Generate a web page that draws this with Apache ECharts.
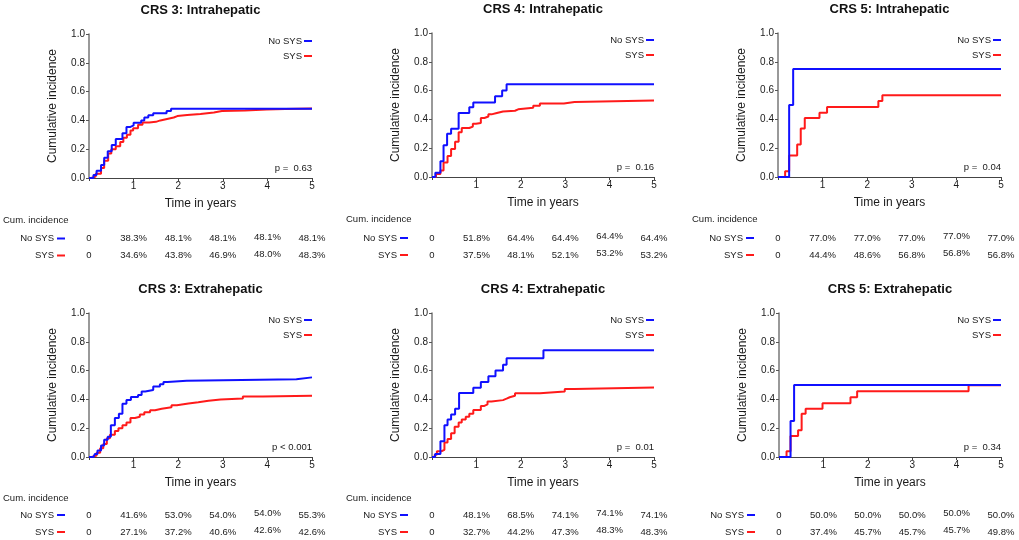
<!DOCTYPE html>
<html><head><meta charset="utf-8">
<script src="https://cdn.jsdelivr.net/npm/echarts@6/dist/echarts.min.js"></script>
<style>html,body{margin:0;padding:0;background:#fff}#c{width:1019px;height:540px}</style>
</head><body><div id="c"></div><script>
const FONT = '"Liberation Sans", Arial, Helvetica, sans-serif';

// ---------- texts ----------
const titles = ['CRS 3: Intrahepatic', 'CRS 4: Intrahepatic', 'CRS 5: Intrahepatic',
                'CRS 3: Extrahepatic', 'CRS 4: Extrahepatic', 'CRS 5: Extrahepatic'];
const pValues = ['p =  0.63', 'p =  0.16', 'p =  0.04', 'p < 0.001', 'p =  0.01', 'p =  0.34'];
const groupNames = ['No SYS', 'SYS'];
const tableTimes = [0, 1, 2, 3, 4, 5];
const showCumLabel = [true, true, true, true, true, false];

// ---------- cumulative incidence curves [years, incidence] ----------
const crs3IntraNoSys = [[0,0],[0.1,0.02],[0.17,0.05],[0.27,0.09],[0.34,0.14],[0.42,0.185],[0.51,0.23],[0.6,0.27],[0.75,0.31],[0.84,0.355],[0.93,0.365],[1.0,0.383],[1.17,0.40],[1.24,0.42],[1.33,0.435],[1.44,0.45],[1.74,0.465],[1.84,0.481],[5,0.481]];
const crs3IntraSys   = [[0,0],[0.05,0.01],[0.15,0.03],[0.27,0.07],[0.34,0.12],[0.43,0.17],[0.5,0.2],[0.6,0.22],[0.7,0.25],[0.77,0.28],[0.85,0.30],[0.93,0.33],[0.99,0.346],[1.1,0.37],[1.2,0.385],[1.35,0.39],[1.5,0.40],[1.6,0.41],[1.75,0.42],[1.9,0.43],[1.98,0.438],[2.2,0.445],[2.5,0.455],[2.8,0.465],[2.98,0.469],[3.5,0.475],[3.98,0.48],[4.4,0.483],[5,0.483]];

const crs4IntraNoSys = [[0,0],[0.075,0.03],[0.19,0.11],[0.26,0.22],[0.34,0.30],[0.43,0.335],[0.6,0.445],[0.84,0.485],[0.93,0.518],[1.42,0.56],[1.58,0.60],[1.68,0.644],[5,0.644]];
const crs4IntraSys   = [[0,0],[0.09,0.02],[0.19,0.045],[0.26,0.10],[0.35,0.145],[0.43,0.195],[0.52,0.245],[0.6,0.31],[0.67,0.34],[0.84,0.35],[0.92,0.37],[0.99,0.375],[1.1,0.41],[1.18,0.42],[1.27,0.435],[1.34,0.445],[1.46,0.455],[1.6,0.46],[1.87,0.47],[1.94,0.481],[2.28,0.495],[2.43,0.51],[2.97,0.521],[3.21,0.532],[5,0.532]];

const crs5IntraNoSys = [[0,0],[0.25,0.50],[0.34,0.75],[5,0.75]];
const crs5IntraSys   = [[0,0],[0.16,0.04],[0.25,0.15],[0.43,0.225],[0.51,0.336],[0.6,0.41],[0.93,0.447],[1.1,0.486],[2.25,0.528],[2.34,0.568],[5,0.568]];

const crs3ExtraNoSys = [[0,0],[0.1,0.01],[0.13,0.02],[0.19,0.045],[0.27,0.08],[0.34,0.12],[0.42,0.14],[0.49,0.22],[0.58,0.27],[0.67,0.30],[0.75,0.37],[0.84,0.395],[0.94,0.416],[1.1,0.43],[1.18,0.455],[1.26,0.465],[1.44,0.49],[1.59,0.505],[1.67,0.52],[1.76,0.53],[2.19,0.54],[4.65,0.553],[5,0.553]];
const crs3ExtraSys   = [[0,0],[0.06,0.01],[0.17,0.03],[0.25,0.06],[0.32,0.09],[0.4,0.13],[0.47,0.155],[0.58,0.18],[0.66,0.20],[0.75,0.22],[0.84,0.24],[0.93,0.271],[1.03,0.28],[1.14,0.295],[1.24,0.31],[1.37,0.325],[1.48,0.335],[1.63,0.345],[1.85,0.36],[1.97,0.372],[2.23,0.38],[2.45,0.39],[2.68,0.40],[2.95,0.406],[3.45,0.42],[3.9,0.426],[5,0.426]];

const crs4ExtraNoSys = [[0,0],[0.07,0.02],[0.19,0.11],[0.28,0.22],[0.35,0.26],[0.43,0.295],[0.52,0.335],[0.61,0.445],[0.93,0.481],[1.1,0.52],[1.27,0.56],[1.43,0.60],[1.6,0.64],[1.68,0.685],[2.51,0.741],[5,0.741]];
const crs4ExtraSys   = [[0,0],[0.06,0.015],[0.11,0.04],[0.21,0.05],[0.28,0.10],[0.35,0.125],[0.43,0.165],[0.51,0.21],[0.6,0.24],[0.67,0.26],[0.76,0.28],[0.84,0.30],[0.93,0.327],[1.1,0.355],[1.18,0.365],[1.25,0.385],[1.34,0.395],[1.6,0.405],[1.68,0.415],[1.75,0.425],[1.87,0.442],[2.43,0.455],[2.99,0.473],[3.21,0.483],[5,0.483]];

const crs5ExtraNoSys = [[0,0],[0.26,0.25],[0.34,0.50],[5,0.50]];
const crs5ExtraSys   = [[0,0],[0.17,0.04],[0.26,0.145],[0.43,0.185],[0.51,0.30],[0.6,0.335],[0.98,0.374],[1.61,0.415],[1.76,0.457],[4.27,0.498],[5,0.498]];

// ---------- table: cumulative incidence at 0..5 years ----------
const crs3IntraNoSysPct = ['0','38.3%','48.1%','48.1%','48.1%','48.1%'];
const crs3IntraSysPct   = ['0','34.6%','43.8%','46.9%','48.0%','48.3%'];
const crs4IntraNoSysPct = ['0','51.8%','64.4%','64.4%','64.4%','64.4%'];
const crs4IntraSysPct   = ['0','37.5%','48.1%','52.1%','53.2%','53.2%'];
const crs5IntraNoSysPct = ['0','77.0%','77.0%','77.0%','77.0%','77.0%'];
const crs5IntraSysPct   = ['0','44.4%','48.6%','56.8%','56.8%','56.8%'];
const crs3ExtraNoSysPct = ['0','41.6%','53.0%','54.0%','54.0%','55.3%'];
const crs3ExtraSysPct   = ['0','27.1%','37.2%','40.6%','42.6%','42.6%'];
const crs4ExtraNoSysPct = ['0','48.1%','68.5%','74.1%','74.1%','74.1%'];
const crs4ExtraSysPct   = ['0','32.7%','44.2%','47.3%','48.3%','48.3%'];
const crs5ExtraNoSysPct = ['0','50.0%','50.0%','50.0%','50.0%','50.0%'];
const crs5ExtraSysPct   = ['0','37.4%','45.7%','45.7%','45.7%','49.8%'];

const noSysCurves = [crs3IntraNoSys, crs4IntraNoSys, crs5IntraNoSys, crs3ExtraNoSys, crs4ExtraNoSys, crs5ExtraNoSys];
const sysCurves   = [crs3IntraSys, crs4IntraSys, crs5IntraSys, crs3ExtraSys, crs4ExtraSys, crs5ExtraSys];
const noSysPct = [crs3IntraNoSysPct, crs4IntraNoSysPct, crs5IntraNoSysPct, crs3ExtraNoSysPct, crs4ExtraNoSysPct, crs5ExtraNoSysPct];
const sysPct   = [crs3IntraSysPct, crs4IntraSysPct, crs5IntraSysPct, crs3ExtraSysPct, crs4ExtraSysPct, crs5ExtraSysPct];

// ---------- layout ----------
const BLUE = '#1010ff', RED = '#ff1a1a', TXT = '#1a1a1a';
const W = 1019;
const boxes = [
  {left: 89,  top: 34,  width: 223, height: 144, rows: [42, 60.5, 77.5]},
  {left: 432, top: 33,  width: 222, height: 144, rows: [42, 61, 78]},
  {left: 778, top: 33,  width: 223, height: 144, rows: [42, 61, 78]},
  {left: 89,  top: 313, width: 223, height: 144, rows: [41, 58, 75]},
  {left: 432, top: 313, width: 222, height: 144, rows: [41, 58, 75]},
  {left: 779, top: 313, width: 222, height: 144, rows: [41, 58, 75]}
];

const chart = echarts.init(document.getElementById('c'), null, {renderer: 'canvas'});

const grid = [], xAxis = [], yAxis = [], series = [], legend = [];
boxes.forEach((b, i) => {
  grid.push({left: b.left, top: b.top, width: b.width, height: b.height, containLabel: false});
  xAxis.push({
    type: 'value', gridIndex: i, min: 0, max: 5, interval: 1,
    name: 'Time in years', nameLocation: 'middle', nameGap: 20,
    nameTextStyle: {fontSize: 12, color: TXT, fontFamily: FONT},
    axisLine: {show: true, lineStyle: {color: '#444', width: 1}},
    axisTick: {show: true, length: 3, lineStyle: {color: '#444'}},
    axisLabel: {fontSize: 10, color: TXT, fontFamily: FONT, margin: 3,
                formatter: v => (v === 0 ? '' : String(v))},
    splitLine: {show: false}
  });
  yAxis.push({
    type: 'value', gridIndex: i, min: 0, max: 1, interval: 0.2,
    name: 'Cumulative incidence', nameLocation: 'middle', nameGap: 30,
    nameTextStyle: {fontSize: 12, color: TXT, fontFamily: FONT},
    axisLine: {show: true, lineStyle: {color: '#777', width: 1.5}},
    axisTick: {show: true, length: 3, lineStyle: {color: '#555'}},
    axisLabel: {fontSize: 10, color: TXT, fontFamily: FONT, margin: 4,
                formatter: v => v.toFixed(1)},
    splitLine: {show: false}
  });
  series.push({
    name: groupNames[0], type: 'line', step: 'end', xAxisIndex: i, yAxisIndex: i,
    data: noSysCurves[i], showSymbol: false, symbol: 'none', color: BLUE,
    lineStyle: {color: BLUE, width: 2}, z: 3, animation: false, clip: false
  });
  series.push({
    name: groupNames[1], type: 'line', step: 'end', xAxisIndex: i, yAxisIndex: i,
    data: sysCurves[i], showSymbol: false, symbol: 'none', color: RED,
    lineStyle: {color: RED, width: 2}, z: 2, animation: false, clip: false
  });
  legend.push({
    orient: 'vertical', align: 'right', right: W - (b.left + b.width), top: b.top + 2,
    padding: 0, icon: 'rect', itemWidth: 8, itemHeight: 2, itemGap: 5, selectedMode: false,
    textStyle: {fontSize: 9.5, color: TXT, fontFamily: FONT, padding: [0, -3, 0, 0]},
    data: groupNames.map(n => ({name: n, itemStyle: {color: n === 'SYS' ? RED : BLUE}}))
  });
});

chart.setOption({
  animation: false, backgroundColor: '#fff',
  grid, xAxis, yAxis, series, legend
});

// ---------- texts: titles, p-values, risk tables ----------
const graphic = [];
boxes.forEach((b, i) => {
  const cx = b.left + b.width / 2;
  const base = b.top + b.height;
  graphic.push({type: 'text', x: cx, y: b.top - 24,
    style: {text: titles[i], fill: '#111', font: 'bold 13px ' + FONT, align: 'center', verticalAlign: 'middle'}});
  graphic.push({type: 'text', x: b.left + b.width, y: base - 10,
    style: {text: pValues[i], fill: TXT, font: '9.5px ' + FONT, align: 'right', verticalAlign: 'middle'}});
  const ax = chart.convertToPixel({xAxisIndex: i}, 0);
  if (showCumLabel[i]) {
    graphic.push({type: 'text', x: ax - 86, y: base + b.rows[0],
      style: {text: 'Cum. incidence', fill: TXT, font: '9.5px ' + FONT, align: 'left', verticalAlign: 'middle'}});
  }
  const rows = [{y: base + b.rows[1], pct: noSysPct[i], color: BLUE, name: groupNames[0]},
                {y: base + b.rows[2], pct: sysPct[i], color: RED, name: groupNames[1]}];
  rows.forEach(r => {
    graphic.push({type: 'text', x: ax - 35, y: r.y,
      style: {text: r.name, fill: TXT, font: '9.5px ' + FONT, align: 'right', verticalAlign: 'middle'}});
    graphic.push({type: 'rect', shape: {x: ax - 32, y: r.y - 1, width: 8, height: 2},
      style: {fill: r.color}});
    tableTimes.forEach((t, k) => {
      const px = chart.convertToPixel({xAxisIndex: i}, t);
      graphic.push({type: 'text', x: px, y: r.y + (t === 4 ? -1.5 : 0),
        style: {text: r.pct[k], fill: TXT, font: '9.5px ' + FONT, align: 'center', verticalAlign: 'middle'}});
    });
  });
});
chart.setOption({graphic});
</script></body></html>
